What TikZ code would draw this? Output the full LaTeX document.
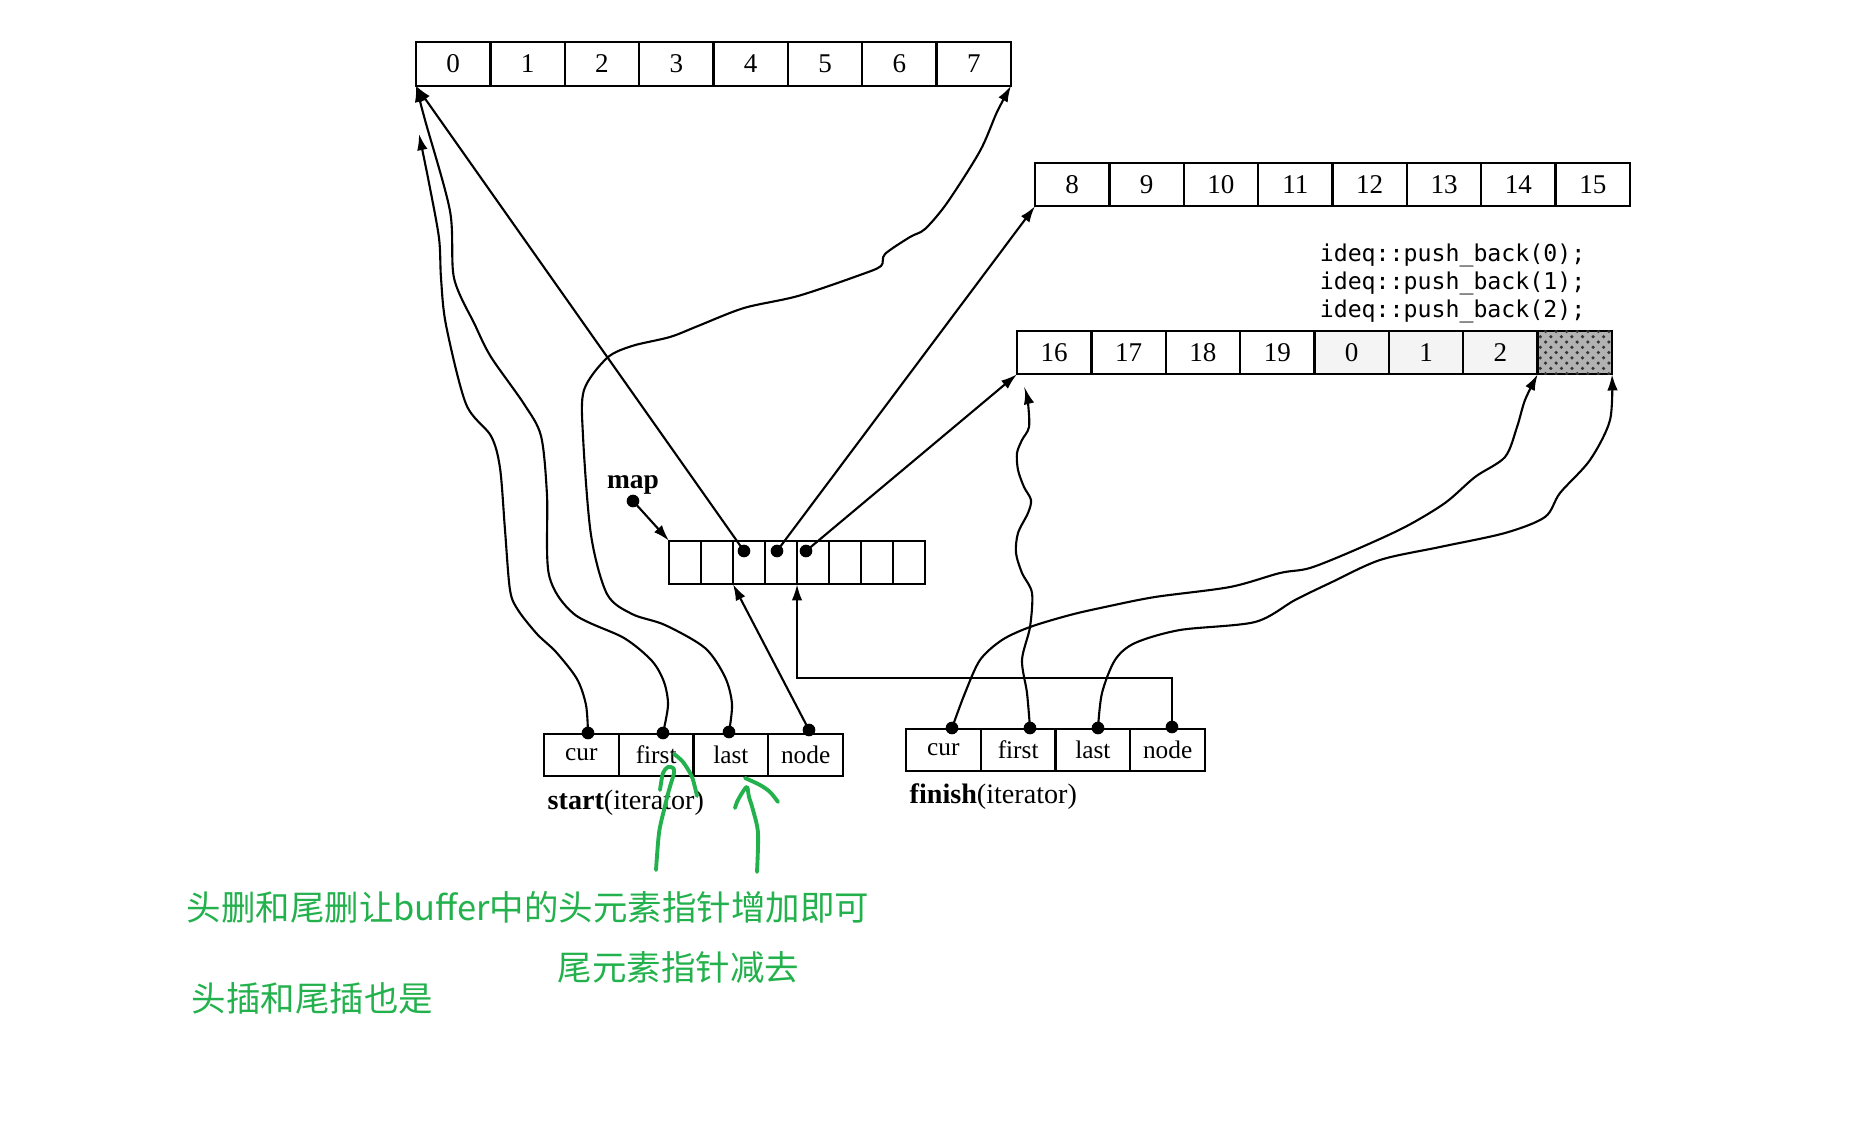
\documentclass[tikz,border=0pt]{standalone}
\usepackage{fontspec}
\setmainfont{Liberation Serif}
\setmonofont{DejaVu Sans Mono}
\newfontfamily\cjk{Noto Sans CJK SC}
\usetikzlibrary{arrows.meta,patterns}
\definecolor{penGreen}{RGB}{34,177,76}

\begin{document}
\begin{tikzpicture}[
    x={(0.01cm,0cm)}, y={(0cm,-0.01cm)},
    every node/.style={font=\fontsize{7.7}{9}\selectfont},
    cell/.style={draw,line width=0.65pt,inner sep=0pt,outer sep=0pt,
        minimum width=0.744cm,minimum height=0.435cm},
    mapcell/.style={cell,minimum width=0.32cm},
    icell/.style={cell,minimum width=0.7475cm,minimum height=0.42cm,
        font=\fontsize{7.2}{8}\selectfont},
    ptr/.style={line width=0.6pt,-{Latex[length=4.6pt,width=3pt]}},
    pen/.style={penGreen,line width=1.1pt,line cap=round,line join=round},
    note/.style={penGreen,inner sep=0pt,anchor=west,
        font=\cjk\fontsize{9.8}{12}\selectfont}]
    \useasboundingbox (0,0) rectangle (1861,1128);

    \fill[gray!9] (1314.5,331) rectangle (1537.6,374);
    \foreach \v [count=\i from 0] in {0,...,7}
        \node[cell] (a\i) at (453.2+74.375*\i,64) {\v};
    \foreach \v [count=\i from 0] in {8,...,15}
        \node[cell] (b\i) at (1072.2+74.375*\i,184.5) {\v};
    \foreach \v [count=\i from 0] in {16,17,18,19,0,1,2}
        \node[cell] (c\i) at (1054.2+74.375*\i,352.5) {\v};
    \node[cell,fill=gray!60,postaction={pattern=crosshatch dots,
        pattern color=black!80}] (c7) at (1574.8,352.5) {};
    \foreach \i in {0,...,7}
        \node[mapcell] (m\i) at (685+32*\i,562.5) {};
    \foreach \t [count=\i from 0] in {cur,first,last,node}
        \node[icell] (s\i) at (581.4+74.75*\i,755) {\t};
    \foreach \t [count=\i from 0] in {cur,first,last,node}
        \node[icell] (f\i) at (943.4+74.75*\i,750) {\t};

    \foreach \i in {0,1,2}
        \node[font=\ttfamily\fontsize{6.6}{8}\selectfont,inner sep=0pt,
            anchor=east] (push\i) at (1586,255+28*\i) {ideq::push\_back(\i);};
    \node[font=\bfseries\fontsize{7.8}{9}\selectfont] (maplbl) at (633,485) {map};
    \node[anchor=west,inner sep=0pt,font=\fontsize{8}{9}\selectfont] (startlbl)
        at (547,803) {\textbf{start}(iterator)};
    \node[anchor=west,inner sep=0pt,font=\fontsize{8}{9}\selectfont] (finishlbl)
        at (909,797) {\textbf{finish}(iterator)};

    \coordinate (mapdot) at (633,501);
    \coordinate (md2) at (744,551);
    \coordinate (md3) at (777,551);
    \coordinate (md4) at (806,551);
    \coordinate (sd0) at (588,733);
    \coordinate (sd1) at (663,733);
    \coordinate (sd2) at (729,732);
    \coordinate (sd3) at (809,730);
    \coordinate (fd0) at (952,728);
    \coordinate (fd1) at (1030,728);
    \coordinate (fd2) at (1098,728);
    \coordinate (fd3) at (1172,727);
    \coordinate (curtip) at (419,134);
    \coordinate (firsttip) at (1025,388);
    \foreach \d in {mapdot,md2,md3,md4,sd0,sd1,sd2,sd3,fd0,fd1,fd2,fd3}
        \fill (\d) circle (1.8pt);

    \draw[ptr] (mapdot) -- (m0.north west);
    \draw[ptr] (md2) -- (a0.south west);
    \draw[ptr] (md3) -- (b0.south west);
    \draw[ptr] (md4) -- (c0.south west);
    \draw[ptr] (sd3) -- (m2.south west);
    \draw[ptr] (fd3) -- ++(0,-49) -| (m3.south east);

    \draw[ptr] plot[smooth] coordinates {(sd0) (586,705) (577,679) (556,652)
        (537,634) (518,610) (510,590) (505,530) (500,468) (491,436) (466,404)
        (446,325) (441,278) (439,238) (429,183) (curtip)};
    \draw[ptr] plot[smooth] coordinates {(sd1) (668,705) (664,682) (652,661)
        (624,638) (574,614) (549,575) (547,495) (541,436) (524,404) (491,357)
        (475,325) (454,278) (450,211) (425,120) (a0.south west)};
    \draw[ptr] plot[smooth] coordinates {(sd2) (732,704) (725,677) (705,648)
        (665,625) (632,614) (607,594) (591,535) (583,436) (584,390) (607,358)
        (632,346) (670,337) (698,326) (744,308) (798,296) (860,275) (881,266)
        (885,254) (910,237) (925,229) (947,203) (980,151) (997,112)
        (a7.south east)};
    \draw[ptr] plot[smooth] coordinates {(fd0) (965,693) (980,660) (1002,640)
        (1030,627) (1070,615) (1105,607) (1155,597) (1230,587) (1280,573)
        (1310,568) (1355,550) (1405,527) (1445,503) (1475,477) (1505,457)
        (1517,427) (1525,400) (c6.south east)};
    \draw[ptr] plot[smooth] coordinates {(fd1) (1027,693) (1022,660) (1030,627)
        (1032,593) (1022,573) (1016,553) (1018,533) (1028,513) (1031,500)
        (1024,487) (1018,470) (1017,453) (1022,440) (1029,427) (1028,403)
        (firsttip)};
    \draw[ptr] plot[smooth] coordinates {(fd2) (1102,693) (1115,660) (1135,643)
        (1180,630) (1255,622) (1295,600) (1330,583) (1380,560) (1440,547)
        (1505,533) (1545,517) (1560,493) (1590,460) (1610,420) (c7.south east)};

    \draw[pen] plot[smooth] coordinates {(656,870) (659,833) (664,810) (669,790)
        (674,773) (673,768) (668,767) (663,773) (660,790)};
    \draw[pen] plot[smooth] coordinates {(674,754) (683,762) (692,777) (697,796)};
    \draw[pen] plot[smooth] coordinates {(757,872) (758,833) (753,810) (749,797)
        (747,787) (742,793) (737,802) (735,808)};
    \draw[pen] plot[smooth] coordinates {(745,778) (760,785) (770,792) (778,802)};

    \node[note] (note1) at (186,907) {头删和尾删让buffer中的头元素指针增加即可};
    \node[note] (note2) at (557,967) {尾元素指针减去};
    \node[note] (note3) at (191,998) {头插和尾插也是};
\end{tikzpicture}
\end{document}
